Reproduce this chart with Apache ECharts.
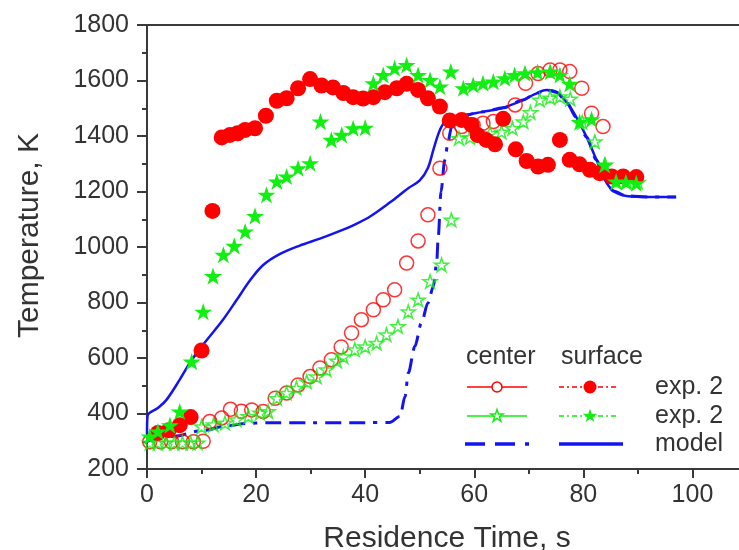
<!DOCTYPE html>
<html>
<head>
<meta charset="utf-8">
<script src="https://cdn.jsdelivr.net/npm/echarts@6/dist/echarts.min.js"></script>
<style>
  html, body { margin: 0; padding: 0; background: #fff; }
  #chart { width: 739px; height: 550px; }
</style>
</head>
<body>
<div id="chart"></div>
<script>
// ---------------------------------------------------------------- data [time s, temperature K]
const redCenter = [
  [0.5, 298], [2.5, 298], [4.5, 298], [6.5, 298], [8.5, 298], [10.3, 300],
  [11.5, 371], [13.7, 384], [15.3, 415], [17.3, 408], [19.2, 413], [21.3, 407],
  [23.5, 455], [25.6, 474], [27.7, 503], [29.9, 533], [31.7, 564], [33.8, 594],
  [35.6, 640], [37.5, 690], [39.3, 738], [41.5, 774], [43.3, 810], [45.4, 846],
  [47.6, 942], [49.7, 1022], [51.5, 1116], [53.7, 1284], [55.5, 1410], [57.7, 1434],
  [59.8, 1440], [61.6, 1446], [63.5, 1452], [67.5, 1512], [69.4, 1590], [71.7, 1625],
  [73.9, 1638], [75.7, 1638], [77.5, 1632], [79.7, 1572], [81.5, 1482], [83.6, 1434]
];
const redSurface = [
  [2, 330], [4, 340], [6, 358], [8, 387], [10, 627], [12, 1130],
  [13.7, 1395], [15.2, 1404], [16.6, 1410], [18, 1422], [19.8, 1428], [21.8, 1473],
  [23.8, 1527], [25.6, 1536], [27.7, 1572], [29.9, 1605], [32, 1582], [34.1, 1575],
  [36, 1555], [37.8, 1540], [39.6, 1535], [41.5, 1540], [43.6, 1558], [45.8, 1572],
  [47.6, 1588], [49.7, 1566], [51.5, 1536], [53.7, 1506], [55.5, 1456], [57.7, 1458],
  [59.5, 1440], [60.6, 1404], [62.2, 1386], [63.8, 1370], [65.3, 1462], [67.6, 1352],
  [69.6, 1310], [71.7, 1290], [73.5, 1296], [75.7, 1386], [77.5, 1314], [79.3, 1298],
  [81.2, 1278], [83, 1266], [85.2, 1254], [87.3, 1254], [89.7, 1252]
];
const greenCenter = [
  [0.5, 294], [2, 294], [3.5, 294], [5, 294], [6.5, 294], [8, 294], [9.3, 294],
  [10, 353], [12.2, 360], [14.3, 366], [16.4, 378], [18.6, 390], [20.7, 402],
  [22.2, 408], [23.8, 455], [25.6, 474], [27.4, 492], [29.3, 515], [31.1, 533],
  [32.9, 558], [34.8, 590], [36, 605], [38.1, 630], [40, 641], [42.1, 654],
  [43.9, 684], [46, 714], [47.9, 767], [49.7, 810], [51.9, 876], [54, 936],
  [55.8, 1098], [57.2, 1392], [59.2, 1395], [61, 1400], [62.9, 1410], [65, 1415],
  [67, 1428], [69, 1452], [70.3, 1485], [72, 1530], [73.9, 1538], [75.7, 1542],
  [77.6, 1534], [79.8, 1450], [82.1, 1380], [84, 1296], [86, 1236], [88, 1236], [90, 1234]
];
const greenSurface = [
  [0.5, 317], [2, 335], [4.2, 358], [6, 407], [8.2, 587], [10.3, 767],
  [12.1, 895], [14, 972], [16, 1004], [18, 1056], [19.8, 1112], [21.9, 1188],
  [23.8, 1236], [25.6, 1254], [27.7, 1284], [29.9, 1302], [31.8, 1452], [33.8, 1386],
  [35.7, 1404], [37.8, 1428], [40, 1430], [41.5, 1590], [43.3, 1620], [45.4, 1644],
  [47.6, 1656], [49.7, 1620], [51.9, 1602], [53.7, 1578], [55.7, 1632], [58, 1572],
  [59.8, 1584], [61.6, 1590], [63.5, 1596], [65.6, 1608], [67.4, 1620], [69.3, 1626],
  [71.6, 1630], [73.9, 1632], [75.7, 1620], [77.5, 1588], [79.3, 1450], [81.5, 1460],
  [83.9, 1296], [86, 1236], [87.8, 1234], [89.7, 1230]
];
const modelSurface = [
  [0, 325], [0.1, 392], [2, 420], [3.6, 450], [6, 522], [7.9, 584], [10, 641],
  [14, 740], [16.4, 808], [18.9, 880], [21.3, 935], [24.4, 975], [28, 1005],
  [31.7, 1030], [35.4, 1058], [38, 1080], [40.9, 1110], [44.5, 1160], [47.9, 1212],
  [50, 1240], [51.5, 1285], [52.5, 1350], [53.7, 1422], [54.9, 1456], [58, 1474],
  [61.6, 1487], [65.3, 1502], [69, 1530], [71, 1550], [73.2, 1566], [75.1, 1558],
  [76.9, 1522], [78.7, 1468], [80.6, 1396], [82.4, 1314], [83.9, 1244], [85.5, 1202],
  [87.9, 1184], [92.2, 1180], [97, 1180]
];
// center model before it meets the surface curve
const modelCenterStart = [
  [0, 300], [5, 318], [10, 338], [15, 356], [18, 364], [22, 367], [30, 367],
  [40, 367], [44.5, 368], [46.4, 390], [47.3, 461], [47.9, 546], [49.1, 641],
  [50.3, 726], [51.5, 798], [52.5, 858], [53.1, 942], [53.4, 1038], [53.9, 1200],
  [54.6, 1314], [55.2, 1380], [55.8, 1430], [57, 1460], [58, 1474]
];
const xTicks = [0, 20, 40, 60, 80, 100];
const yTicks = [200, 400, 600, 800, 1000, 1200, 1400, 1600, 1800];

const modelCenter = modelCenterStart.concat(modelSurface.filter(p => p[0] > 58));

// ---------------------------------------------------------------- styles
const FONT = "'Liberation Sans', Arial, sans-serif";
const TXT = '#333';
const RED = '#ff0000';
const GREEN = '#11ee11';
const BLUE = '#1414f0';
const STAR = 'path://M50 0 L61.23 34.55 L97.55 34.55 L68.16 55.9 L79.39 90.45 L50 69.1 L20.61 90.45 L31.84 55.9 L2.45 34.55 L38.77 34.55 Z';

function starPoints(cx, cy, R) {
    let pts = [];
    for (let i = 0; i < 10; i++) {
        let a = (-90 + i * 36) * Math.PI / 180;
        let r = i % 2 ? R * 0.382 : R;
        pts.push([cx + r * Math.cos(a), cy + r * Math.sin(a)]);
    }
    return pts;
}

function legendText(text, x, y) {
    return {
        type: 'text', x: x, y: y, z: 100,
        style: { text: text, font: '25px ' + FONT, fill: TXT, verticalAlign: 'middle', textVerticalAlign: 'middle' }
    };
}
function legendLine(x1, x2, y, color, width, dash) {
    return {
        type: 'line', z: 100,
        shape: { x1: x1, y1: y, x2: x2, y2: y },
        style: { stroke: color, lineWidth: width, lineDash: dash || null }
    };
}

// legend is drawn by hand: two columns (center / surface) and labels on the right
const legend = [
    legendText('center', 466, 357),
    legendText('surface', 561, 357),
    legendLine(467, 527, 387, RED, 1.5),
    { type: 'circle', z: 101, shape: { cx: 497, cy: 387, r: 5 }, style: { fill: '#fff', stroke: RED, lineWidth: 1.5 } },
    legendLine(559, 618, 387, RED, 1.5, [5, 3, 2, 3]),
    { type: 'circle', z: 101, shape: { cx: 590, cy: 387, r: 6.5 }, style: { fill: RED } },
    legendText('exp. 2', 655, 387),
    legendLine(467, 527, 416, GREEN, 1.5),
    { type: 'polygon', z: 101, shape: { points: starPoints(497, 416, 6.5) }, style: { fill: '#fff', stroke: GREEN, lineWidth: 1.5 } },
    legendLine(559, 618, 416, GREEN, 1.5, [5, 3, 2, 3]),
    { type: 'polygon', z: 101, shape: { points: starPoints(590, 416, 7.5) }, style: { fill: GREEN } },
    legendText('exp. 2', 655, 416),
    legendLine(465, 529, 444, BLUE, 3.5, [20, 10, 20, 10, 4, 10]),
    legendLine(559, 623, 444, BLUE, 3.5),
    legendText('model', 655, 444)
];

// ---------------------------------------------------------------- chart
const chart = echarts.init(document.getElementById('chart'), null, { renderer: 'canvas' });

const axisLine = { show: true, lineStyle: { color: '#3a3a3a', width: 2 } };

chart.setOption({
    backgroundColor: '#fff',
    animation: false,
    // plot runs past the right edge of the picture (x max 110 is cut off)
    grid: { left: 147, top: 25, width: 600, bottom: 81, containLabel: false, outerBoundsMode: 'none' },
    xAxis: [{
        type: 'value', position: 'bottom', min: 0, max: 110, interval: 20,
        name: 'Residence Time, s', nameLocation: 'middle', nameGap: 55,
        nameTextStyle: { fontFamily: FONT, fontSize: 30, color: TXT },
        axisLine: axisLine,
        axisTick: { show: true, inside: false, length: 9, lineStyle: { color: '#3a3a3a', width: 2 } },
        minorTick: { show: true, splitNumber: 2, length: 5, lineStyle: { color: '#3a3a3a', width: 2 } },
        axisLabel: {
            fontFamily: FONT, fontSize: 25, color: TXT, margin: 14,
            formatter: v => xTicks.indexOf(v) >= 0 ? String(v) : ''
        },
        splitLine: { show: false }
    }, {
        type: 'value', position: 'top', min: 0, max: 110,
        axisLine: axisLine, axisTick: { show: false }, axisLabel: { show: false }, splitLine: { show: false }
    }],
    yAxis: {
        type: 'value', min: 200, max: 1800, interval: 200,
        name: 'Temperature, K', nameLocation: 'middle', nameGap: 102, nameRotate: 90,
        nameTextStyle: { fontFamily: FONT, fontSize: 30, color: TXT, padding: [0, 0, 0, 23] },
        axisLine: axisLine,
        axisTick: { show: true, inside: false, length: 10, lineStyle: { color: '#3a3a3a', width: 2 } },
        minorTick: { show: true, splitNumber: 2, length: 5, lineStyle: { color: '#3a3a3a', width: 2 } },
        axisLabel: {
            fontFamily: FONT, fontSize: 25, color: TXT, margin: 18,
            formatter: v => yTicks.indexOf(v) >= 0 ? String(v) : ''
        },
        splitLine: { show: false }
    },
    series: [
        {
            name: 'model center', type: 'line', data: modelCenter, symbol: 'none',
            smooth: 0.3, smoothMonotone: 'x',
            lineStyle: { color: BLUE, width: 3, type: [16, 8, 16, 8, 4, 8] }, z: 2
        },
        {
            name: 'model surface', type: 'line', data: modelSurface, symbol: 'none',
            smooth: 0.35,
            lineStyle: { color: BLUE, width: 2.5 }, z: 2
        },
        {
            name: 'center exp. 2 (red)', type: 'scatter', data: redCenter,
            symbol: 'circle', symbolSize: 14,
            itemStyle: { color: 'rgba(255,255,255,0)', borderColor: RED, borderWidth: 1.5 }, z: 3
        },
        {
            name: 'center exp. 2 (green)', type: 'scatter', data: greenCenter,
            symbol: STAR, symbolSize: 14, symbolKeepAspect: true,
            itemStyle: { color: 'rgba(255,255,255,0)', borderColor: GREEN, borderWidth: 1.5 }, z: 4
        },
        {
            name: 'surface exp. 2 (red)', type: 'scatter', data: redSurface,
            symbol: 'circle', symbolSize: 16,
            itemStyle: { color: RED, opacity: 1 }, z: 5
        },
        {
            name: 'surface exp. 2 (green)', type: 'scatter', data: greenSurface,
            symbol: STAR, symbolSize: 18, symbolKeepAspect: true,
            itemStyle: { color: GREEN, opacity: 1 }, z: 6
        }
    ],
    graphic: legend
});
</script>
</body>
</html>
